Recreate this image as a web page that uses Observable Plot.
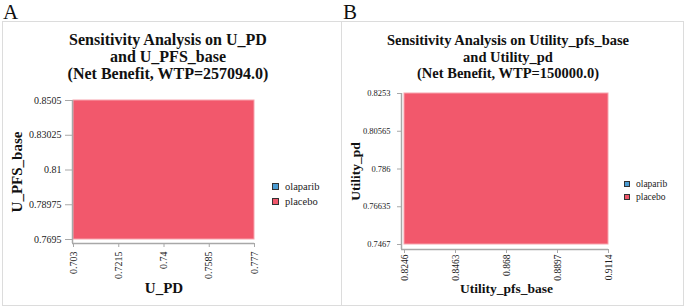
<!DOCTYPE html>
<html>
<head>
<meta charset="utf-8">
<script src="https://cdn.jsdelivr.net/npm/d3@7"></script>
<script src="https://cdn.jsdelivr.net/npm/@observablehq/plot@0.6"></script>
<style>
  html, body { margin: 0; padding: 0; background: #fff; }
  #root { position: relative; width: 685px; height: 307px; overflow: hidden; background: #fff; color: #111; }
  #root, #root * , #root svg text { font-family: "Liberation Serif", "Times New Roman", Times, serif !important; }
  .panel { position: absolute; border: 1px solid #dcdcdc; box-sizing: border-box; }
  .tag { position: absolute; font-size: 21px; line-height: 24px; }
  .title { position: absolute; font-weight: bold; text-align: center; white-space: nowrap; transform: translateX(-50%); }
  .legend { position: absolute; }
  .legend .item { display: flex; align-items: center; white-space: nowrap; color: #222; }
  .legend .sw { display: inline-block; box-sizing: border-box; border: 1px solid #333; }
  .plotbox { position: absolute; }
</style>
</head>
<body>
<div id="root"></div>
<script>
// ---------- data ----------
const strategies = ["olaparib", "placebo"];
const strategyColors = ["#4b9cd3", "#f2586c"];

const panelA_title = ["Sensitivity Analysis on U_PD", "and U_PFS_base", "(Net Benefit, WTP=257094.0)"];
const panelA_xLabel = "U_PD";
const panelA_yLabel = "U_PFS_base";
const panelA_xTicks = [0.703, 0.7215, 0.74, 0.7585, 0.777];
const panelA_yTicks = [0.7695, 0.78975, 0.81, 0.83025, 0.8505];
const panelA_optimal = ["placebo"];

const panelB_title = ["Sensitivity Analysis on Utility_pfs_base", "and Utility_pd", "(Net Benefit, WTP=150000.0)"];
const panelB_xLabel = "Utility_pfs_base";
const panelB_yLabel = "Utility_pd";
const panelB_xTicks = [0.8246, 0.8463, 0.868, 0.8897, 0.9114];
const panelB_yTicks = [0.7467, 0.76635, 0.786, 0.80565, 0.8253];
const panelB_optimal = ["placebo"];

// ---------- helpers ----------
const FONT = "Liberation Serif, Times New Roman, serif";
const root = document.getElementById("root");
function el(tag, cls, style, text) {
  const e = document.createElement(tag);
  if (cls) e.className = cls;
  Object.assign(e.style, style || {});
  if (text != null) e.textContent = text;
  root.appendChild(e);
  return e;
}

function drawPanel(cfg) {
  const { xTicks, yTicks, optimal, xLabel, yLabel, layout } = cfg;
  const x0 = xTicks[0], x1 = xTicks[xTicks.length - 1];
  const y0 = yTicks[0], y1 = yTicks[yTicks.length - 1];
  const regions = optimal.map(s => ({ x1: x0, x2: x1, y1: y0, y2: y1, strategy: s }));
  const L = layout;
  const chart = Plot.plot({
    width: L.width,
    height: L.height,
    marginLeft: L.marginLeft,
    marginRight: L.marginRight,
    marginTop: L.marginTop,
    marginBottom: L.marginBottom,
    style: { background: "transparent", fontFamily: FONT, overflow: "visible" },
    x: { domain: [x0, x1] },
    y: { domain: [y0, y1], insetBottom: L.insetBottom },
    color: { domain: strategies, range: strategyColors },
    marks: [
      Plot.rect(regions, { x1: "x1", x2: "x2", y1: "y1", y2: "y2", fill: "strategy", stroke: "#f7a3ad", strokeWidth: 1 }),
      Plot.ruleX([x0], { dx: L.leftLineDx, stroke: "#a8a8a8", strokeWidth: 1.5 }),
      Plot.ruleY([y0], { dy: L.insetBottom, stroke: "#a8a8a8", strokeWidth: 1.5, insetLeft: L.leftLineDx }),
      Plot.axisY(yTicks, { tickSize: L.yTickSize, tickPadding: L.yTickPadding, dx: L.leftLineDx, fontSize: L.yTickFont,
        fontFamily: FONT, stroke: "#a8a8a8", fill: "#222", tickFormat: d => String(d), label: null }),
      Plot.axisX(xTicks, { tickSize: 4, tickPadding: L.xTickPadding, tickRotate: -90, fontSize: L.xTickFont,
        fontFamily: FONT, stroke: "#a8a8a8", fill: "#222", tickFormat: d => String(d), label: null }),
      Plot.text([xLabel], { frameAnchor: "bottom", dy: L.xTitleDy, fontSize: L.titleFont, fontWeight: "bold",
        fontFamily: FONT, fill: "#111" }),
      Plot.text([yLabel], { frameAnchor: "left", textAnchor: "middle", dx: L.yTitleDx, rotate: -90, fontSize: L.titleFont,
        fontWeight: "bold", fontFamily: FONT, fill: "#111" })
    ]
  });
  const box = el("div", "plotbox", { left: L.left + "px", top: L.top + "px" });
  box.appendChild(chart);
}

function drawTitle(lines, cx, top, size, lh) {
  const t = el("div", "title", { left: cx + "px", top: top + "px", fontSize: size + "px", lineHeight: lh + "px" });
  lines.forEach((ln, i) => { if (i) t.appendChild(document.createElement("br")); t.appendChild(document.createTextNode(ln)); });
}

function drawLegend(left, top, size, sw, gap) {
  const lg = el("div", "legend", { left: left + "px", top: top + "px", fontSize: size + "px", lineHeight: gap + "px" });
  strategies.forEach((s, i) => {
    const it = document.createElement("div");
    it.className = "item";
    const sq = document.createElement("span");
    sq.className = "sw";
    Object.assign(sq.style, { width: sw + "px", height: sw + "px", background: strategyColors[i], marginRight: "6px" });
    it.appendChild(sq);
    it.appendChild(document.createTextNode(s));
    lg.appendChild(it);
  });
  root.appendChild(lg);
}

// ---------- frames ----------
el("div", "panel", { left: "2px", top: "21px", width: "340px", height: "285px" });
el("div", "panel", { left: "341px", top: "21px", width: "343px", height: "285px" });
el("div", "tag", { left: "3px", top: "0px" }, "A");
el("div", "tag", { left: "343px", top: "0px" }, "B");

// ---------- panel A ----------
drawTitle(panelA_title, 168, 31, 16, 17);
drawPanel({
  xTicks: panelA_xTicks, yTicks: panelA_yTicks, optimal: panelA_optimal, xLabel: panelA_xLabel, yLabel: panelA_yLabel,
  layout: { left: 0, top: 90, width: 340, height: 215, marginLeft: 73, marginRight: 86, marginTop: 10, marginBottom: 62,
    insetBottom: 4, leftLineDx: -1, yTickSize: 7, yTickPadding: 4, yTickFont: 10, xTickPadding: 4, xTickFont: 10,
    titleFont: 15, xTitleDy: 49, yTitleDx: -56 }
});
drawLegend(272, 179, 10.5, 7, 15);

// ---------- panel B ----------
drawTitle(panelB_title, 508, 32, 14.5, 16.5);
drawPanel({
  xTicks: panelB_xTicks, yTicks: panelB_yTicks, optimal: panelB_optimal, xLabel: panelB_xLabel, yLabel: panelB_yLabel,
  layout: { left: 341, top: 80, width: 342, height: 225, marginLeft: 63, marginRight: 75, marginTop: 13, marginBottom: 56,
    insetBottom: 5, leftLineDx: -3, yTickSize: 4, yTickPadding: 7, yTickFont: 8.5, xTickPadding: 1, xTickFont: 9.5,
    titleFont: 13.5, xTitleDy: 43, yTitleDx: -49 }
});
drawLegend(624, 178, 9.5, 6, 12.5);
</script>
</body>
</html>
